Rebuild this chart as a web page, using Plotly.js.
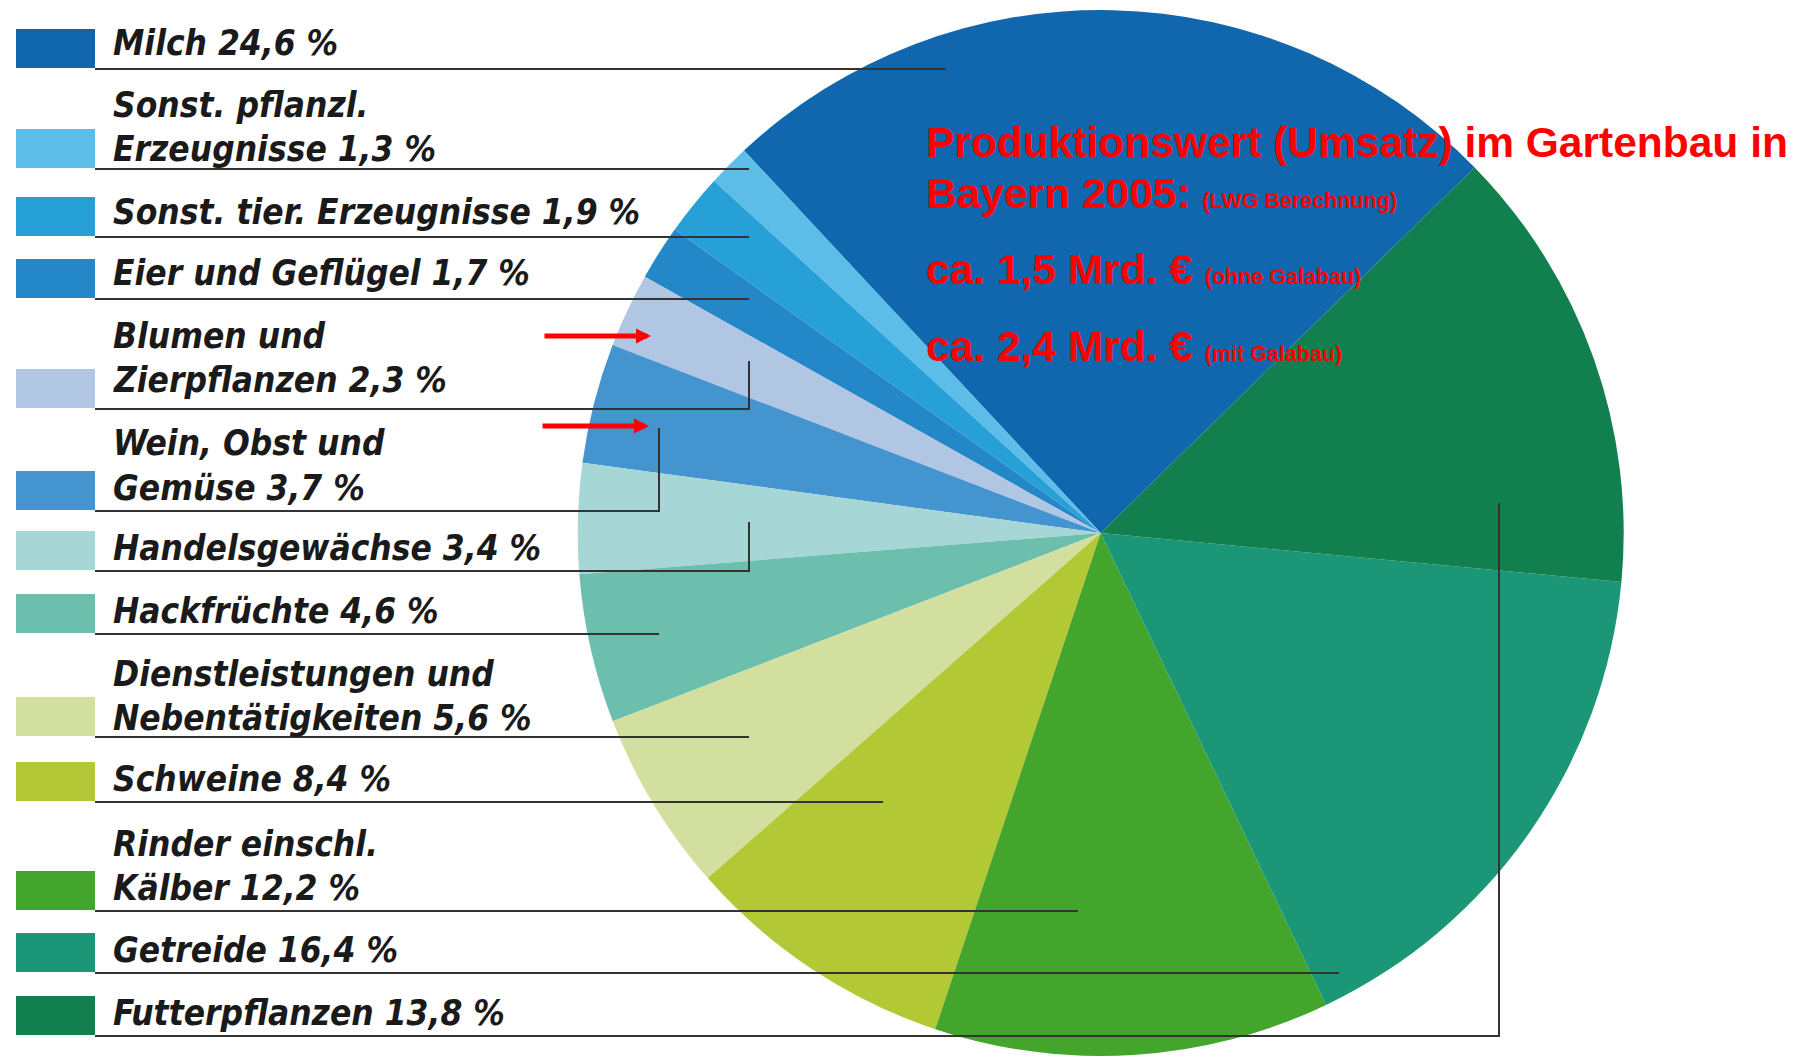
<!DOCTYPE html>
<html>
<head>
<meta charset="utf-8">
<script src="https://cdn.plot.ly/plotly-3.0.1.min.js"></script>
<style>
html,body{margin:0;padding:0;background:#ffffff;}
#chart{width:1797px;height:1058px;}
</style>
</head>
<body>
<div id="chart"></div>
<script>
// ---------------- DATA ----------------
const categories = [
  "Milch",
  "Sonst. pflanzl.\nErzeugnisse",
  "Sonst. tier. Erzeugnisse",
  "Eier und Geflügel",
  "Blumen und\nZierpflanzen",
  "Wein, Obst und\nGemüse",
  "Handelsgewächse",
  "Hackfrüchte",
  "Dienstleistungen und\nNebentätigkeiten",
  "Schweine",
  "Rinder einschl.\nKälber",
  "Getreide",
  "Futterpflanzen"
];
const shares = [24.6, 1.3, 1.9, 1.7, 2.3, 3.7, 3.4, 4.6, 5.6, 8.4, 12.2, 16.4, 13.8];
const sliceColors = [
  "#1167ae", "#5cbde8", "#27a0d8", "#2487c8", "#b0c6e3", "#4494cf", "#a6d6d6",
  "#6cbfad", "#d3df9f", "#b2c835", "#43a52c", "#1b9677", "#117f4e"
];
const titleLines = ["Produktionswert (Umsatz) im Gartenbau in", "Bayern 2005:"];
const titleNotes = ["", "(LWG Berechnung)"];
const totalLines = ["ca. 1,5 Mrd. €", "ca. 2,4 Mrd. €"];
const totalNotes = ["(ohne Galabau)", "(mit Galabau)"];

// ---------------- LAYOUT (positions in px) ----------------
const W = 1797, H = 1058;
const px = x => x / W;
const py = y => 1 - y / H;

const rowLineY    = [69, 169, 237, 299, 409, 511, 571, 634, 737, 802, 911, 973, 1036];
const rowLineEnd  = [946, 749, 749, 749, 749, 659, 749, 659, 749, 883, 1078, 1339, 1499];
const rowRiseTo   = [null, null, null, null, 361, 428, 522, null, null, null, null, null, 503];
const rowTextLift = [13.5, 7.5, 13, 13, 16.5, 11, 11, 11, 7, 11, 11, 11, 11];

const legendFont = {family: "DejaVu Sans Condensed, DejaVu Sans, sans-serif", size: 35, color: "#1a1a1a", weight: "bold", style: "italic"};
const redFont = {family: "Liberation Sans, Arial, sans-serif", size: 42.5, color: "#ff0000", weight: "bold"};

const fmt = v => v.toFixed(1).replace(".", ",") + " %";

const shapes = [];
const annotations = [];

categories.forEach((name, i) => {
  const ly = rowLineY[i];
  // swatch
  shapes.push({type: "rect", xref: "paper", yref: "paper",
    x0: px(16), x1: px(95), y0: py(ly - 1), y1: py(ly - 40),
    line: {width: 0}, fillcolor: sliceColors[i]});
  // leader line
  let path = `M ${px(95)} ${py(ly)} L ${px(rowLineEnd[i])} ${py(ly)}`;
  if (rowRiseTo[i] !== null) path += ` L ${px(rowLineEnd[i])} ${py(rowRiseTo[i])}`;
  shapes.push({type: "path", xref: "paper", yref: "paper", path: path,
    line: {color: "#333333", width: 2}});
  // label text
  const lines = (name + " " + fmt(shares[i])).split("\n");
  const n = lines.length;
  lines.forEach((t, k) => {
    const baseline = ly - rowTextLift[i] - 44 * (n - 1 - k);
    annotations.push({xref: "paper", yref: "paper", x: px(111), y: py(baseline + 9.5),
      xanchor: "left", yanchor: "bottom", showarrow: false, text: t, font: legendFont, borderpad: 1});
  });
});

// red heading
const redBaselines = [158, 209, 285, 362];
const noteSpan = s => " <span style='font-size:21.5px'>" + s + "</span>";
const redTexts = [
  titleLines[0] + (titleNotes[0] ? noteSpan(titleNotes[0]) : ""),
  titleLines[1] + noteSpan(titleNotes[1]),
  totalLines[0] + noteSpan(totalNotes[0]),
  totalLines[1] + noteSpan(totalNotes[1])
];
redTexts.forEach((t, k) => {
  annotations.push({xref: "paper", yref: "paper", x: px(924), y: py(redBaselines[k] + 10),
    xanchor: "left", yanchor: "bottom", showarrow: false, text: t, font: redFont, borderpad: 1});
});

// red arrows
[[651, 336], [649, 426]].forEach(p => {
  annotations.push({xref: "paper", yref: "paper", x: px(p[0]), y: py(p[1]),
    ax: -108, ay: 0, axref: "pixel", ayref: "pixel", text: "", showarrow: true,
    arrowhead: 2, arrowwidth: 5, arrowsize: 0.6, arrowcolor: "#ff0000", standoff: 0});
});

const trace = {
  type: "pie",
  labels: categories.map(c => c.replace("\n", " ")),
  values: shares,
  marker: {colors: sliceColors, line: {width: 0}},
  sort: false,
  direction: "counterclockwise",
  rotation: -43,
  textinfo: "none",
  hoverinfo: "none",
  showlegend: false,
  domain: {x: [px(1100.7 - 523), px(1100.7 + 523)], y: [py(533 + 523), py(533 - 523)]}
};

const layout = {
  width: W, height: H,
  margin: {l: 0, r: 0, t: 0, b: 0, pad: 0},
  paper_bgcolor: "#ffffff",
  plot_bgcolor: "#ffffff",
  showlegend: false,
  shapes: shapes,
  annotations: annotations
};

Plotly.newPlot("chart", [trace], layout, {staticPlot: true, displayModeBar: false});
</script>
</body>
</html>
